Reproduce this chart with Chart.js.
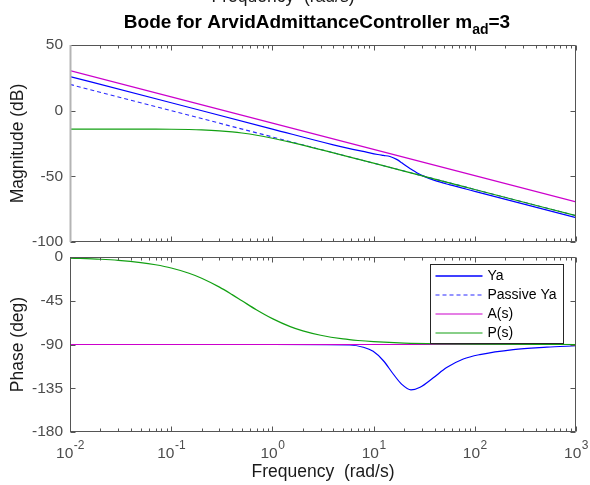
<!DOCTYPE html>
<html>
<head>
<meta charset="utf-8">
<script src="https://cdn.jsdelivr.net/npm/chart.js@4.4.0/dist/chart.umd.min.js"></script>
<style>
  body { margin: 0; background: #fff; }
  #wrap { position: relative; width: 590px; height: 485px; }
  canvas { position: absolute; left: 0; top: 0; }
</style>
</head>
<body>
<div id="wrap">
  <canvas id="magChart" width="590" height="485"></canvas>
  <canvas id="phaseChart" width="590" height="485"></canvas>
</div>
<script>
// Data
const freqLine = [0.01, 0.1, 1, 10, 100, 1000];
const magA = [30.5, 10.5, -9.5, -29.5, -49.5, -69.5];
const magPassive = [20, 0, -20, -40, -60, -80];
const phaseFlat = [-90, -90, -90, -90, -90, -90];

const freqP = [0.01, 0.02, 0.03, 0.05, 0.07, 0.1, 0.15, 0.2, 0.3, 0.4, 0.5, 0.7, 1, 1.5, 2, 3, 5, 7, 10, 20, 50, 100, 1000];
const magP = [-14, -14, -14, -14.02, -14.06, -14.15, -14.35, -14.62, -15.32, -16.13, -17, -18.7, -21, -24, -26.3, -29.7, -34, -36.9, -40, -46, -54, -60, -80];
const phaseP = [-1.1, -2.3, -3.4, -5.7, -8, -11.3, -16.7, -21.8, -31, -38.7, -45, -54.5, -63.4, -71.6, -76, -80.5, -84.3, -85.9, -87.1, -88.6, -89.4, -89.7, -90];

const freqYaMag = [0.01, 0.1, 1, 4, 8.5, 11, 12.5, 14.5, 16.9, 19, 21.2, 23.5, 26.7, 32, 40, 57, 100, 1000];
const magYa = [26, 6, -14, -26, -31.6, -33.4, -34.1, -34.9, -37.1, -39.7, -42.4, -44.6, -47.2, -50.2, -53.1, -56.5, -61.4, -81.4];

const freqYaPh = [0.01, 1, 5.8, 7.9, 9.9, 12.5, 15.7, 19, 23.4, 28.8, 38.9, 52.7, 77, 112, 240, 514, 1000];
const phaseYa = [-90, -90, -90.5, -92.8, -97, -106.7, -120.6, -131, -136.7, -133.9, -124.2, -113.7, -104.9, -100.4, -95.2, -92.8, -91.3];

// Axis ticks
const freqExps = [-2, -1, 0, 1, 2, 3];
const magTicks = [-100, -50, 0, 50];
const phaseTicks = [-180, -135, -90, -45, 0];
const seriesNames = ["Ya", "Passive Ya", "A(s)", "P(s)"];

const FONT = "'Liberation Sans', Arial, Helvetica, sans-serif";
const BLUE = "#0000ff";
const DASH_BLUE = "#2a2aff";
const MAGENTA = "#cc00cc";
const GREEN = "#12a012";
const AXIS = "#555555";
const LABEL = "#4d4d4d";

function pts(xs, ys) {
  return xs.map((x, i) => ({ x: x, y: ys[i] }));
}

function makeSets(ya, passive, a, p) {
  return [
    { label: seriesNames[0], data: ya, borderColor: BLUE, borderWidth: 1.2, order: 4, cubicInterpolationMode: "monotone" },
    { label: seriesNames[1], data: passive, borderColor: DASH_BLUE, borderWidth: 1.1, borderDash: [4, 3], order: 3 },
    { label: seriesNames[2], data: a, borderColor: MAGENTA, borderWidth: 1.2, order: 2 },
    { label: seriesNames[3], data: p, borderColor: GREEN, borderWidth: 1.2, order: 1, cubicInterpolationMode: "monotone" }
  ];
}

// box + inward ticks like the MATLAB axes
function drawFrame(chart, leftColor) {
  const { ctx, chartArea: a, scales: { x, y } } = chart;
  const L = Math.round(a.left) + 0.5, R = Math.round(a.right) - 0.5;
  const T = Math.round(a.top) + 0.5, B = Math.round(a.bottom) - 0.5;
  ctx.save();
  ctx.lineWidth = 1;
  ctx.strokeStyle = AXIS;
  ctx.beginPath();
  ctx.moveTo(L, T); ctx.lineTo(R, T); ctx.lineTo(R, B); ctx.lineTo(L, B);
  for (let i = 0; i < freqExps.length; i++) {
    const dec = Math.pow(10, freqExps[i]);
    for (let m = 1; m < 10; m++) {
      if (i == freqExps.length - 1 && m > 1) break;
      const px = Math.round(x.getPixelForValue(dec * m)) + 0.5;
      const len = m == 1 ? 5 : 3;
      ctx.moveTo(px, B); ctx.lineTo(px, B - len);
      ctx.moveTo(px, T); ctx.lineTo(px, T + len);
    }
  }
  y.ticks.forEach((t) => {
    const py = Math.round(y.getPixelForValue(t.value)) + 0.5;
    ctx.moveTo(L, py); ctx.lineTo(L + 5, py);
    ctx.moveTo(R, py); ctx.lineTo(R - 5, py);
  });
  ctx.stroke();
  ctx.strokeStyle = leftColor;
  ctx.lineWidth = leftColor == AXIS ? 1 : 2;
  ctx.beginPath();
  ctx.moveTo(L, T - 0.5); ctx.lineTo(L, B + 0.5);
  ctx.stroke();
  ctx.restore();
}

const magPlugin = {
  id: "magPlugin",
  afterDraw(chart) {
    const ctx = chart.ctx;
    const a = chart.chartArea;
    drawFrame(chart, "#b4b4b4");
    ctx.save();
    // cut-off label at the very top of the figure
    ctx.fillStyle = "#1a1a1a";
    ctx.font = "17.5px " + FONT;
    ctx.textAlign = "center";
    ctx.textBaseline = "alphabetic";
    ctx.fillText("Frequency  (rad/s)", 283, 1.5);
    // title with subscript
    const main = "Bode for ArvidAdmittanceController m";
    const sub = "ad";
    const tail = "=3";
    ctx.textAlign = "left";
    ctx.font = "bold 19px " + FONT;
    const w1 = ctx.measureText(main).width;
    const w3 = ctx.measureText(tail).width;
    ctx.font = "bold 14px " + FONT;
    const w2 = ctx.measureText(sub).width;
    let tx = (a.left + a.right) / 2 - (w1 + w2 + w3) / 2 - 6;
    ctx.fillStyle = "#000";
    ctx.font = "bold 19px " + FONT;
    ctx.fillText(main, tx, 28);
    ctx.font = "bold 14px " + FONT;
    ctx.fillText(sub, tx + w1, 34);
    ctx.font = "bold 19px " + FONT;
    ctx.fillText(tail, tx + w1 + w2, 28);
    ctx.restore();
  }
};

const phasePlugin = {
  id: "phasePlugin",
  afterDraw(chart) {
    const ctx = chart.ctx;
    const a = chart.chartArea;
    const x = chart.scales.x;
    drawFrame(chart, AXIS);
    ctx.save();
    // decade labels 10^n
    ctx.fillStyle = LABEL;
    ctx.textBaseline = "alphabetic";
    ctx.textAlign = "left";
    freqExps.forEach((e) => {
      const px = x.getPixelForValue(Math.pow(10, e));
      const ex = String(e).replace("-", "\u2212").replace("\u2212", "-");
      ctx.font = "15.5px " + FONT;
      const wb = ctx.measureText("10").width;
      ctx.font = "12px " + FONT;
      const we = ctx.measureText(ex).width;
      const sx = px - (wb + we) / 2;
      ctx.font = "15.5px " + FONT;
      ctx.fillText("10", sx, 458);
      ctx.font = "12px " + FONT;
      ctx.fillText(ex, sx + wb + 0.5, 449);
    });
    // x axis title
    ctx.fillStyle = "#1a1a1a";
    ctx.font = "17.5px " + FONT;
    ctx.textAlign = "center";
    ctx.fillText("Frequency  (rad/s)", (a.left + a.right) / 2, 477);

    // legend box
    const bw = 133, bh = 79;
    const bx = Math.round(a.right) - 13 - bw + 0.5;
    const by = Math.round(a.top) + 7 + 0.5;
    ctx.fillStyle = "#fff";
    ctx.fillRect(bx, by, bw, bh);
    ctx.strokeStyle = "#262626";
    ctx.lineWidth = 1;
    ctx.strokeRect(bx, by, bw, bh);
    ctx.font = "14px " + FONT;
    ctx.textAlign = "left";
    ctx.textBaseline = "middle";
    chart.data.datasets.forEach((ds, i) => {
      const ry = by + 11.5 + i * 19;
      ctx.strokeStyle = ds.borderColor;
      ctx.lineWidth = i == 0 ? 1.6 : 1.2;
      ctx.setLineDash(ds.borderDash || []);
      ctx.beginPath();
      ctx.moveTo(bx + 5, ry);
      ctx.lineTo(bx + 52, ry);
      ctx.stroke();
      ctx.setLineDash([]);
      ctx.fillStyle = "#000";
      ctx.fillText(ds.label, bx + 57, ry + 0.5);
    });
    ctx.restore();
  }
};

function yAxis(min, max, tickList, title) {
  return {
    type: "linear",
    min: min,
    max: max,
    afterFit: (s) => { s.width = 70; },
    afterBuildTicks: (s) => { s.ticks = tickList.map((v) => ({ value: v })); },
    grid: { display: false, drawTicks: false },
    border: { display: false },
    ticks: { color: LABEL, font: { family: FONT, size: 15.5 }, padding: 7 },
    title: {
      display: true,
      text: title,
      color: "#1a1a1a",
      font: { family: FONT, size: 17.5 },
      padding: { top: 8, bottom: 0 }
    }
  };
}

function xAxis() {
  return { type: "logarithmic", min: 0.01, max: 1000, display: false };
}

const common = {
  responsive: false,
  animation: false,
  events: [],
  elements: { point: { radius: 0 }, line: { tension: 0 } },
  plugins: { legend: { display: false }, tooltip: { enabled: false } }
};

const magChart = new Chart(document.getElementById("magChart").getContext("2d"), {
  type: "line",
  data: {
    datasets: makeSets(pts(freqYaMag, magYa), pts(freqLine, magPassive), pts(freqLine, magA), pts(freqP, magP))
  },
  options: Object.assign({}, common, {
    layout: { padding: { left: 0, right: 14, top: 45, bottom: 243 } },
    scales: { x: xAxis(), y: yAxis(-100, 50, magTicks, "Magnitude (dB)") }
  }),
  plugins: [magPlugin]
});

const phaseChart = new Chart(document.getElementById("phaseChart").getContext("2d"), {
  type: "line",
  data: {
    datasets: makeSets(pts(freqYaPh, phaseYa), pts(freqLine, phaseFlat), pts(freqLine, phaseFlat), pts(freqP, phaseP))
  },
  options: Object.assign({}, common, {
    layout: { padding: { left: 0, right: 14, top: 257, bottom: 53 } },
    scales: { x: xAxis(), y: yAxis(-180, 0, phaseTicks, "Phase (deg)") }
  }),
  plugins: [phasePlugin]
});
</script>
</body>
</html>
